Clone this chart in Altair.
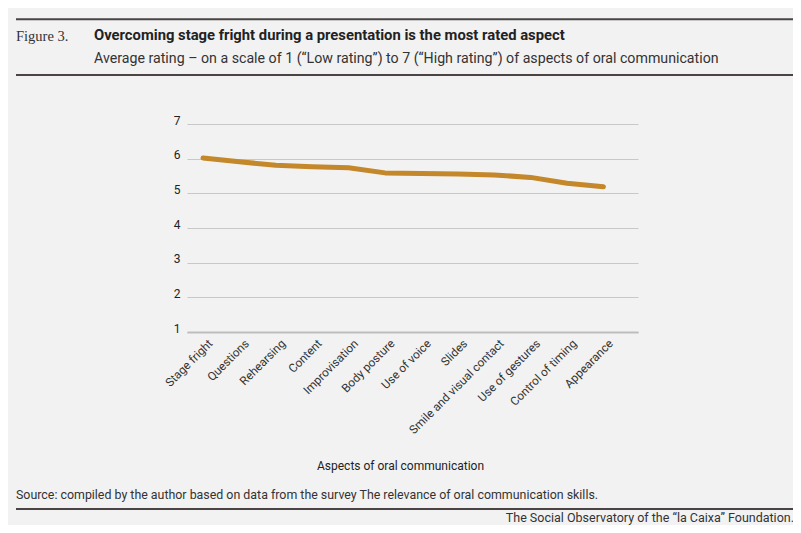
import altair as alt
import pandas as pd

categories = ["Stage fright", "Questions", "Rehearsing", "Content", "Improvisation",
              "Body posture", "Use of voice", "Slides", "Smile and visual contact",
              "Use of gestures", "Control of timing", "Appearance"]
ratings = [6.02, 5.91, 5.81, 5.77, 5.74, 5.59, 5.57, 5.56, 5.53, 5.46, 5.29, 5.19]
y_ticks = [1, 2, 3, 4, 5, 6, 7]

df = pd.DataFrame({"idx": list(range(len(categories))), "aspect": categories, "rating": ratings})

W, H = 451, 208
label_expr = "[" + ",".join('"%s"' % c for c in categories) + "][datum.value]"

line = alt.Chart(df).mark_line(color="#C4872A", strokeWidth=5, strokeCap="round", strokeJoin="round").encode(
    x=alt.X("idx:Q",
            scale=alt.Scale(domain=[-0.44, 11.95], nice=False, zero=False),
            axis=alt.Axis(values=list(range(len(categories))), labelExpr=label_expr,
                          labelAngle=-45, labelAlign="right", labelBaseline="middle",
                          labelPadding=9, labelOffset=7, labelFontSize=11.8, labelColor="#333333",
                          labelFont="Roboto", ticks=False, grid=False,
                          domain=True, domainColor="#BDBDBD", domainWidth=2,
                          title="Aspects of oral communication", titleFont="Roboto",
                          titleFontSize=12, titleFontWeight="normal", titleColor="#222222",
                          titleX=213, titleY=137, titleBaseline="alphabetic", titleAlign="center",
                          labelOverlap=False)),
    y=alt.Y("rating:Q",
            scale=alt.Scale(domain=[1, 7], nice=False, zero=False),
            axis=alt.Axis(values=y_ticks, format="d", ticks=False, domain=False,
                          grid=True, gridColor="#C8C8C8", gridWidth=1,
                          labelFont="Roboto", labelFontSize=12, labelColor="#222222",
                          labelPadding=7, labelBaseline="alphabetic", labelOffset=0,
                          title=None)),
)

def rule(y, x1=-171, x2=606):
    return alt.Chart(pd.DataFrame({"a": [0]})).mark_rule(color="#4A4544", strokeWidth=2).encode(
        x=alt.value(x1), x2=alt.value(x2), y=alt.value(y))

def text(t, x, y, size, font="Roboto", weight="normal", align="left", color="#333333"):
    return alt.Chart(pd.DataFrame({"t": [t]})).mark_text(
        align=align, baseline="alphabetic", fontSize=size, font=font, fontWeight=weight,
        color=color).encode(x=alt.value(x), y=alt.value(y), text="t:N")

chart = alt.layer(
    line,
    rule(-104.7), rule(-49), rule(385),
    text("Figure 3.", -171, -83, 14.5, font="Liberation Serif", color="#333333"),
    text("Overcoming stage fright during a presentation is the most rated aspect", -93, -84, 14.8,
         weight="bold", color="#222222"),
    text("Average rating \u2013 on a scale of 1 (\u201cLow rating\u201d) to 7 (\u201cHigh rating\u201d) of aspects of oral communication",
         -93, -61, 14.2),
    text("Source: compiled by the author based on data from the survey The relevance of oral communication skills.",
         -171, 375, 12.4),
    text("The Social Observatory of the \u201cla Caixa\u201d Foundation.", 607, 398, 12.5, align="right"),
).properties(
    width=W, height=H,
    autosize=alt.AutoSizeParams(type="none"),
    padding={"left": 179, "top": 116, "right": 155, "bottom": 193},
    background="#F2F2F2",
).configure_view(stroke=None)

chart.save("out.html", embed_options={"renderer": "svg", "actions": False})
